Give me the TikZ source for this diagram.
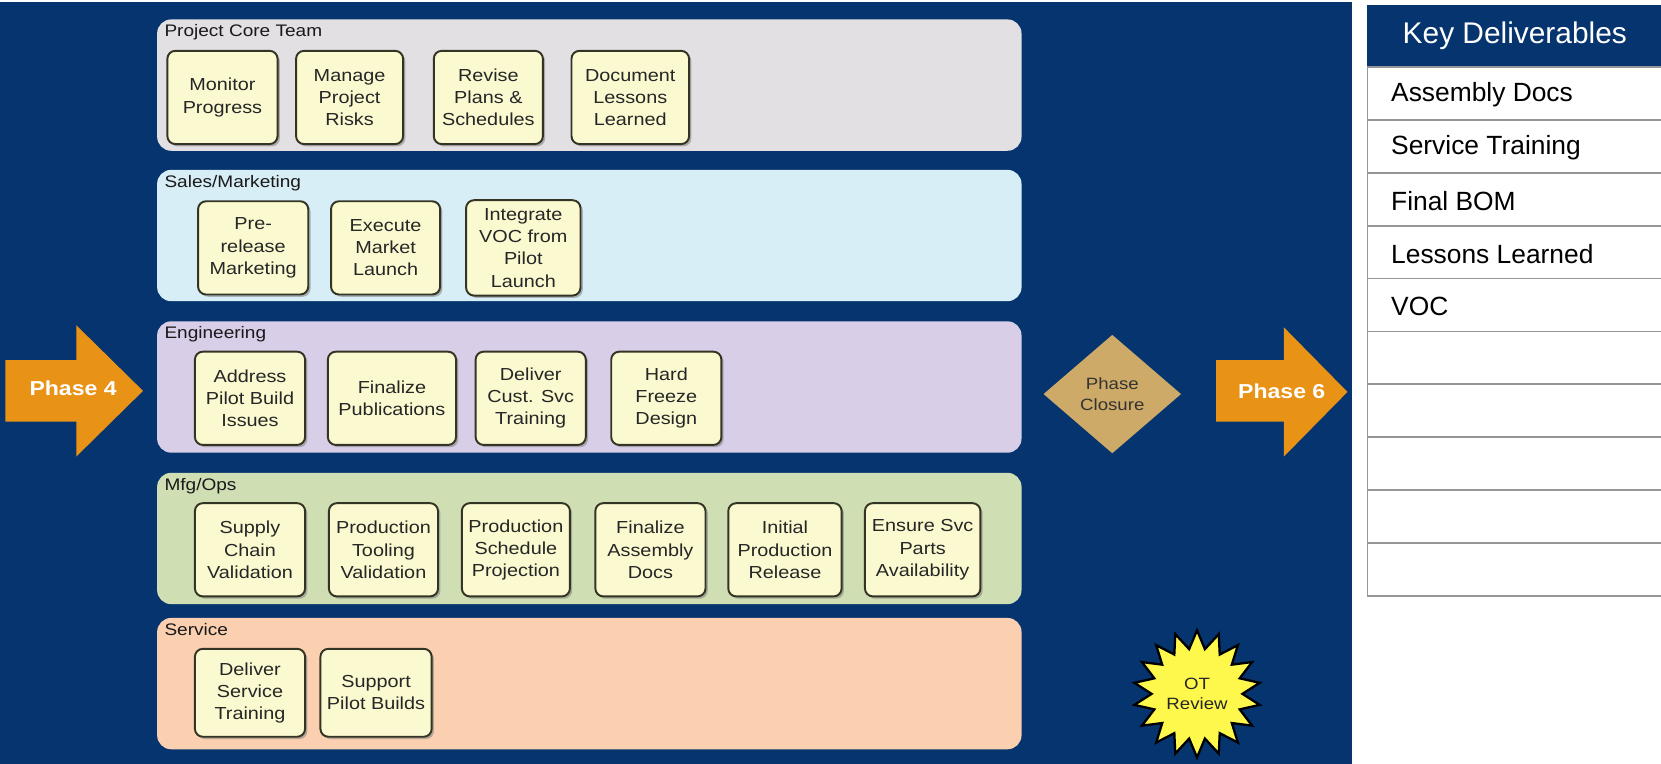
\documentclass[tikz,border=0pt]{standalone}
\usepackage{fontspec}
\setmainfont{Liberation Sans}
\newfontfamily\widesans[FakeStretch=1.14]{Liberation Sans}
\usepackage{tikz}
\usetikzlibrary{shapes.geometric,shadows}
\definecolor{navy}{RGB}{6, 52, 110}
\definecolor{corefill}{RGB}{226, 224, 226}
\definecolor{salesfill}{RGB}{216, 238, 246}
\definecolor{engfill}{RGB}{216, 206, 232}
\definecolor{mfgfill}{RGB}{208, 222, 180}
\definecolor{svcfill}{RGB}{250, 208, 176}
\definecolor{taskfill}{RGB}{251, 249, 208}
\definecolor{taskborder}{RGB}{52, 52, 36}
\definecolor{phaseorange}{RGB}{232, 146, 22}
\definecolor{closuretan}{RGB}{206, 170, 104}
\definecolor{burstyellow}{RGB}{255, 248, 76}
\definecolor{linegray}{RGB}{150, 150, 150}
\newcommand{\pxu}{0.021186cm}
\tikzset{
  band/.style = {rounded corners = 8pt, inner sep = 0, minimum width = 816*\pxu, minimum height = 124*\pxu,
    anchor = north west},
  bandlabel/.style = {anchor = north west, inner sep = 0, font = \widesans\fontsize{9.5}{11}\selectfont, text = black!90},
  task/.style = {draw = taskborder, line width = 1.1pt, fill = taskfill, rounded corners = 4.5pt,
    align = center, inner sep = 0, minimum height = 88*\pxu, text = black!85,
    font = \widesans\fontsize{9.9}{12.6}\selectfont,
    drop shadow = {shadow xshift = 1.3pt, shadow yshift = -1.3pt, opacity = 0.55}},
  phasetext/.style = {text = white, font = \widesans\bfseries\fontsize{11.5}{13}\selectfont},
  cell/.style = {draw = linegray, line width = 1.1pt, anchor = north west, minimum width = 290*\pxu,
    minimum height = 50*\pxu, inner sep = 0},
  celltext/.style = {anchor = west, font = \fontsize{15}{17}\selectfont}
}

\begin{document}
\begin{tikzpicture}[x = \pxu, y = -\pxu]
\useasboundingbox (0,0) rectangle (1568,721);
\fill[navy] (0,2) rectangle (1276,721);

% swim lanes
\node[band, fill = corefill] (core) at (148,18) {};
\node[band, fill = salesfill] (sales) at (148,160) {};
\node[band, fill = engfill] (eng) at (148,303) {};
\node[band, fill = mfgfill] (mfg) at (148,446) {};
\node[band, fill = svcfill] (svc) at (148,583) {};
\node[bandlabel] (corelbl) at (155,23) {Project Core Team};
\node[bandlabel] (saleslbl) at (155,165) {Sales/Marketing};
\node[bandlabel] (englbl) at (155,308) {Engineering};
\node[bandlabel] (mfglbl) at (155,451) {Mfg/Ops};
\node[bandlabel] (svclbl) at (155,588) {Service};

% tasks
\node[task, minimum width = 104*\pxu] (monitor) at (210,92) {Monitor\\Progress};
\node[task, minimum width = 101*\pxu] (risks) at (330,92) {Manage\\Project\\Risks};
\node[task, minimum width = 103*\pxu] (revise) at (461,92) {Revise\\Plans \&\\Schedules};
\node[task, minimum width = 111*\pxu] (lessons) at (595,92) {Document\\Lessons\\Learned};

\node[task, minimum width = 104*\pxu] (prerel) at (239,234) {Pre-\\release\\Marketing};
\node[task, minimum width = 103*\pxu] (launch) at (364,234) {Execute\\Market\\Launch};
\node[task, minimum width = 108*\pxu, minimum height = 90*\pxu] (voc) at (494,234) {Integrate\\VOC from\\Pilot\\Launch};

\node[task, minimum width = 104*\pxu] (pilot) at (236,376) {Address\\Pilot Build\\Issues};
\node[task, minimum width = 121*\pxu] (pubs) at (370,376) {Finalize\\Publications};
\node[task, minimum width = 104*\pxu] (custsvc) at (501,376) {Deliver\\Cust. Svc\\Training};
\node[task, minimum width = 104*\pxu] (freeze) at (629,376) {Hard\\Freeze\\Design};

\node[task, minimum width = 104*\pxu] (supply) at (236,519) {Supply\\Chain\\Validation};
\node[task, minimum width = 103*\pxu] (tooling) at (362,519) {Production\\Tooling\\Validation};
\node[task, minimum width = 102*\pxu] (sched) at (487,519) {Production\\Schedule\\Projection};
\node[task, minimum width = 104*\pxu] (assy) at (614,519) {Finalize\\Assembly\\Docs};
\node[task, minimum width = 107*\pxu] (initprod) at (741,519) {Initial\\Production\\Release};
\node[task, minimum width = 109*\pxu] (parts) at (871,519) {Ensure Svc\\Parts\\Availability};

\node[task, minimum width = 104*\pxu, minimum height = 83*\pxu] (svctrain) at (236,654) {Deliver\\Service\\Training};
\node[task, minimum width = 105*\pxu, minimum height = 83*\pxu] (support) at (355,654) {Support\\Pilot Builds};

% phase arrows
\fill[phaseorange] (5,340) -- (72,340) -- (72,307) -- (135,369) -- (72,431) -- (72,398) -- (5,398) -- cycle;
\node[phasetext] (ph4) at (69,367) {Phase 4};
\fill[phaseorange] (1148,340) -- (1212,340) -- (1212,309) -- (1272,370) -- (1212,431) -- (1212,398) -- (1148,398) -- cycle;
\node[phasetext] (ph6) at (1210,369) {Phase 6};

\node[diamond, fill = closuretan, inner sep = 0, minimum width = 130*\pxu, minimum height = 112*\pxu, aspect = 1.16,
  align = center, text = black!80, font = \widesans\fontsize{9.3}{11.8}\selectfont] (closure) at (1050,372) {Phase\\Closure};
\node[star, star points = 18, star point ratio = 1.4, draw = black, line width = 1.3pt, fill = burstyellow,
  minimum size = 120*\pxu, inner sep = 0, align = center, text = black!85,
  font = \widesans\fontsize{9.3}{11.8}\selectfont] (otreview) at (1130,655) {OT\\Review};

% deliverables table
\node[cell, fill = navy, draw = navy, minimum height = 57*\pxu] (head) at (1290,5) {};
\node[text = white, font = \fontsize{17}{19}\selectfont] (headtxt) at (1430,34) {Key Deliverables};
\foreach \i/\t in {0/Assembly Docs, 1/Service Training, 2/Final BOM, 3/Lessons Learned, 4/VOC,
  5/, 6/, 7/, 8/, 9/} {
  \node[cell] (row\i) at (1290,62+50*\i) {};
  \node[celltext] (rowtxt\i) at ([xshift = 10.5pt, yshift = -1pt]row\i.west) {\t};
}
\end{tikzpicture}
\end{document}
